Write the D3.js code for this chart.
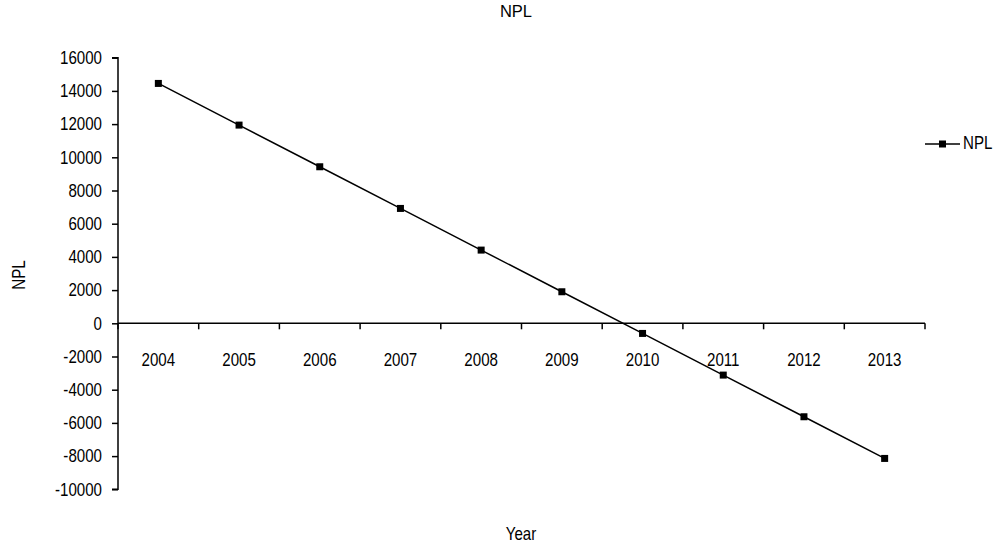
<!DOCTYPE html>
<html><head><meta charset="utf-8">
<script src="https://cdn.jsdelivr.net/npm/d3@7"></script>
<style>
html,body{margin:0;padding:0;background:#fff;}
text{font-family:"Liberation Sans",Arial,sans-serif;fill:#000;}
.narR{transform-box:fill-box;transform-origin:right center;transform:scaleX(0.84);}
.narC{transform-box:fill-box;transform-origin:center center;transform:scaleX(0.84);}
.narL{transform-box:fill-box;transform-origin:left center;transform:scaleX(0.84);}
</style></head>
<body>
<svg id="chart" width="1001" height="545"></svg>
<script>
const years = ["2004","2005","2006","2007","2008","2009","2010","2011","2012","2013"];
const nplValues = [14450, 11940, 9430, 6920, 4410, 1900, -610, -3120, -5630, -8140];
const yTicks = [16000,14000,12000,10000,8000,6000,4000,2000,0,-2000,-4000,-6000,-8000,-10000];
const seriesName = "NPL";
const chartTitle = "NPL";
const xTitle = "Year";
const yTitle = "NPL";

const svg = d3.select("#chart");
const plotL = 118, plotR = 925, plotT = 57.7, plotB = 489.3;
const fs = 18;

const x = d3.scaleBand().domain(years).range([plotL, plotR]).padding(0);
const y = d3.scaleLinear().domain([-10000, 16000]).range([plotB, plotT]);

// Y axis
const yAxis = d3.axisLeft(y).tickValues(yTicks).tickSize(6).tickPadding(10).tickFormat(d => String(d));
const gy = svg.append("g").attr("transform", `translate(${plotL},0)`).call(yAxis);
gy.selectAll("path,line").attr("stroke","#000").attr("stroke-width",1.5);
gy.select(".domain").attr("d", `M-6,${y(16000)}H0V${y(-10000)}H-6`);
gy.selectAll("text").attr("font-size", fs).attr("font-family", null).attr("fill","#000").attr("class","narR");

// X axis on zero line
const xAxis = d3.axisBottom(x).tickSize(0).tickFormat("");
const gx = svg.append("g").attr("transform", `translate(0,${y(0)})`).call(xAxis);
gx.select(".domain").attr("d", `M${plotL},0H${plotR}`).attr("stroke","#000").attr("stroke-width",1.5);
const bounds = years.map(d => x(d)).concat([plotR]);
gx.selectAll(".bt").data(bounds).enter().append("line")
  .attr("x1", d => d).attr("x2", d => d).attr("y1", 0).attr("y2", 6)
  .attr("stroke","#000").attr("stroke-width",1.5);
svg.append("g").selectAll("text").data(years).enter().append("text")
  .attr("class","narC")
  .attr("x", d => x(d) + x.bandwidth()/2)
  .attr("y", y(0) + 38)
  .attr("text-anchor","middle").attr("dominant-baseline","middle")
  .attr("font-size", fs).text(d => d);

// line
const line = d3.line().x((d,i) => x(years[i]) + x.bandwidth()/2).y(d => y(d));
svg.append("path").datum(nplValues).attr("d", line)
  .attr("fill","none").attr("stroke","#000").attr("stroke-width",1.5);
svg.append("g").selectAll("rect").data(nplValues).enter().append("rect")
  .attr("x", (d,i) => x(years[i]) + x.bandwidth()/2 - 3.5)
  .attr("y", d => y(d) - 3.5)
  .attr("width",7).attr("height",7).attr("fill","#000");

// titles
svg.append("text").attr("x", 516).attr("y", 13).attr("text-anchor","middle")
  .attr("dominant-baseline","middle").attr("font-size", 16.5).text(chartTitle);
svg.append("text").attr("x", 521).attr("y", 535).attr("text-anchor","middle")
  .attr("class","narC")
  .attr("dominant-baseline","middle").attr("font-size", fs).text(xTitle);
svg.append("text").attr("transform","translate(20,275) rotate(-90) scale(0.84,1)").attr("text-anchor","middle")
  .attr("dominant-baseline","middle").attr("font-size", fs).text(yTitle);

// legend
const lg = svg.append("g").attr("transform","translate(925,144)");
lg.append("line").attr("x1",0).attr("x2",35).attr("y1",0).attr("y2",0).attr("stroke","#000").attr("stroke-width",1.5);
lg.append("rect").attr("x",14).attr("y",-3.5).attr("width",7).attr("height",7).attr("fill","#000");
lg.append("text").attr("x",38).attr("y",0).attr("class","narL").attr("dominant-baseline","middle").attr("font-size", fs).text(seriesName);
</script>
</body></html>
